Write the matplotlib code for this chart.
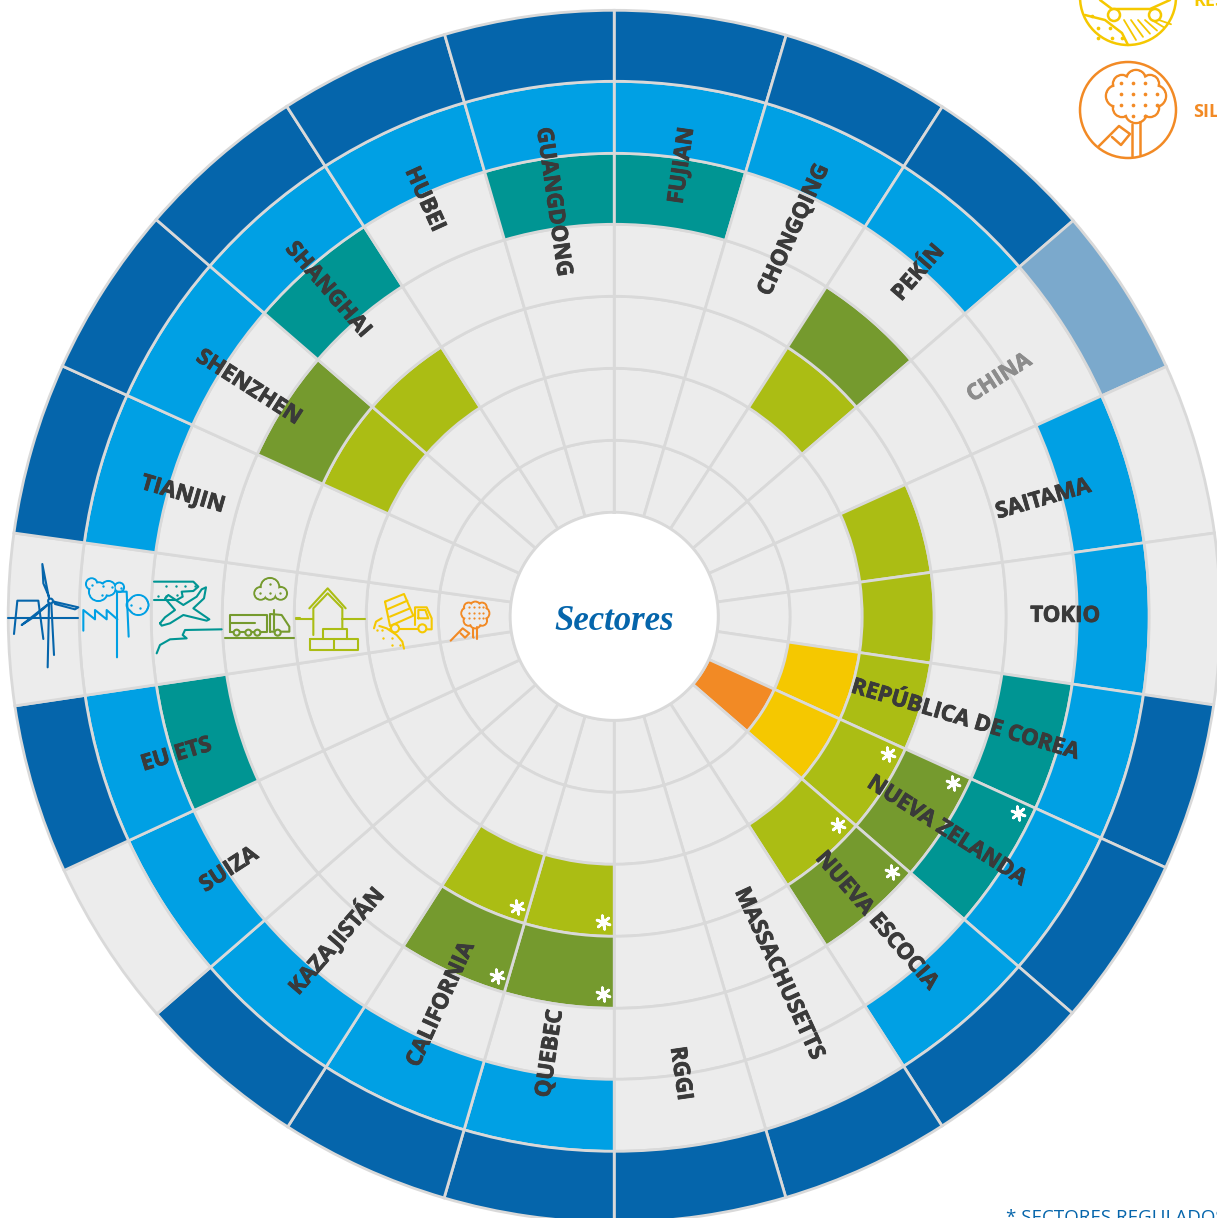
import matplotlib
matplotlib.use("Agg")
import matplotlib.pyplot as plt
import matplotlib.patheffects as pe
import numpy as np
from matplotlib.patches import Circle

# jurisdictions clockwise from 12 o'clock, the empty one holds the icons
names = ["FUJIAN", "CHONGQING", "PEKÍN", "CHINA", "SAITAMA", "TOKIO", "REPÚBLICA DE COREA",
         "NUEVA ZELANDA", "NUEVA ESCOCIA", "MASSACHUSETTS", "RGGI", "QUEBEC", "CALIFORNIA",
         "KAZAJISTÁN", "SUIZA", "EU ETS", "", "TIANJIN", "SHENZHEN", "SHANGHAI", "HUBEI", "GUANGDONG"]
label_r = [456, 426, 459, 453, 445, 451, 366, 396, 402, 394, 462, 442, 425, 427, 461, 459, 0,
           448, 431, 434, 458, 419]
label_deg = [8.6, 25.0, 41.6, 58.3, 74.8, 90.0, 106.5, 122.9, 139.3, 155.3, 171.8, 188.3, 204.0,
             220.6, 236.6, 252.4, 0, 285.7, 302.0, 318.7, 335.5, 351.6]

# spoke directions
spoke_deg = [0, 16.49, 32.78, 49.23, 65.66, 82.1, 98.41, 114.5, 130.9, 147.25, 163.55, 180,
             196.3, 212.6, 229.0, 245.2, 261.5, 277.9, 294.4, 310.9, 327.3, 343.75, 360]

# which jurisdictions are filled, ring by ring
silvicultura = [7]
residuos = [6, 7]
edificios = [2, 4, 5, 6, 7, 8, 11, 12, 18, 19]
transporte = [2, 7, 8, 11, 12, 18]
aviacion = [0, 6, 7, 15, 19, 21]
industria = [0, 1, 2, 4, 5, 6, 7, 8, 11, 12, 13, 14, 15, 17, 18, 19, 20, 21]
energia = [0, 1, 2, 6, 7, 8, 9, 10, 11, 12, 13, 15, 17, 18, 19, 20, 21]
energia_parcial = [3]

# regulated cells marked with an asterisk
star_sector = [7, 7, 7, 8, 8, 11, 11, 12, 12]
star_ring = [2, 3, 4, 2, 3, 2, 3, 2, 3]

ring_edges = [104, 176, 248, 320, 392, 463, 535, 606]
ring_fill = [silvicultura, residuos, edificios, transporte, aviacion, industria, energia]
ORANGE, YELLOW, LIME, OLIVE, TEAL, BLUE, DARK = ("#F28A25", "#F5C800", "#ABBD14", "#759A2E",
                                                "#009593", "#00A0E4", "#0565AB")
ring_colors = [ORANGE, YELLOW, LIME, OLIVE, TEAL, BLUE, DARK]
GREY = "#ECECEC"
LINE = "#D9D9D9"
TEXT = "#3A3A3A"

W, H = 1217, 1218
cx, cy, rmax = 614.2, 616.3, 612
fig = plt.figure(figsize=(W / 100, H / 100), dpi=100)
ax = fig.add_axes([(cx - rmax) / W, (H - cy - rmax) / H, 2 * rmax / W, 2 * rmax / H], projection="polar")
ax.set_theta_zero_location("N")
ax.set_theta_direction(-1)
ax.set_ylim(0, rmax)
ax.axis("off")

n = len(names)
edges = np.radians(spoke_deg)
mid = (edges[:-1] + edges[1:]) / 2
widths = np.diff(edges)

for ring in range(7):
    bottom = ring_edges[ring]
    height = ring_edges[ring + 1] - bottom
    colors = [ring_colors[ring] if i in ring_fill[ring] else GREY for i in range(n)]
    if ring == 6:
        for i in energia_parcial:
            colors[i] = "#7BA9CC"
    ax.bar(mid, height, width=widths, bottom=bottom, color=colors, edgecolor=LINE, linewidth=2.0)

ax.bar([0], ring_edges[0], width=2 * np.pi, bottom=0, color="white", edgecolor="none")
theta = np.linspace(0, 2 * np.pi, 400)
ax.plot(theta, np.full(400, ring_edges[0]), color=LINE, lw=2.0)

star_r = [ring_edges[r + 1] - 14 for r in star_ring]
star_t = [edges[s] + 11.5 / r for s, r in zip(star_sector, star_r)]
ax.scatter(star_t, star_r, marker=(6, 2, 10), s=95, color="white", linewidths=2.0, zorder=6)

for i, name in enumerate(names):
    if not name:
        continue
    deg = np.degrees(mid[i])
    rot = 90 - deg if deg < 180 else 270 - deg
    col = "#8C8C8C" if name == "CHINA" else TEXT
    ax.text(np.radians(label_deg[i]), label_r[i], name, rotation=rot, rotation_mode="anchor",
            ha="center", va="center", family="Open Sans", weight="bold", fontsize=16, color=col, zorder=7,
            path_effects=[pe.withStroke(linewidth=0.6, foreground=col)])

# overlay in pixels for the icons and the cut-off legend
ov = fig.add_axes([0, 0, 1, 1], facecolor="none")
ov.set_xlim(0, W)
ov.set_ylim(H, 0)
ov.axis("off")


def line(pts, color, lw=1.5, ox=0, oy=0, s=1 / 3):
    xs = [ox + p[0] * s for p in pts]
    ys = [oy + p[1] * s for p in pts]
    ov.plot(xs, ys, color=color, lw=lw, solid_capstyle="round", solid_joinstyle="round", zorder=5)


def cloud(blobs, color, bg, lw=1.5, ox=0, oy=0, s=1 / 3):
    for x, y, r in blobs:
        ov.add_patch(Circle((ox + x * s, oy + y * s), r * s, fc="none", ec=color, lw=lw, zorder=3))
    for x, y, r in blobs:
        ov.add_patch(Circle((ox + x * s, oy + y * s), r * s - lw * 0.7, fc=bg, ec="none", zorder=3))


def dots(pts, color, ox=0, oy=0, s=1 / 3, size=3):
    ov.scatter([ox + p[0] * s for p in pts], [oy + p[1] * s for p in pts], s=size, color=color,
               linewidths=0, zorder=5)


# turbine
ox, oy = 0, 530
line([(25, 265), (235, 265)], DARK, 1.5, ox, oy)
line([(42, 312), (52, 212), (115, 212), (130, 327)], DARK, 1.5, ox, oy)
line([(147, 205), (127, 102), (130, 160), (147, 200)], DARK, 1.5, ox, oy)
line([(162, 215), (235, 232), (225, 238), (165, 222), (162, 215)], DARK, 1.5, ox, oy)
line([(145, 222), (65, 285), (100, 262), (143, 225)], DARK, 1.5, ox, oy)
line([(147, 222), (143, 412)], DARK, 1.5, ox, oy)
line([(154, 222), (162, 375)], DARK, 1.5, ox, oy)
ov.add_patch(Circle((50.5, 601), 2.4, fc=GREY, ec=DARK, lw=1.5, zorder=6))

# factory
line([(250, 302), (250, 240), (285, 268), (285, 240), (320, 268), (320, 240), (352, 268)], BLUE, 1.5, ox, oy)
line([(351, 382), (351, 185), (380, 185), (386, 320)], BLUE, 1.5, ox, oy)
cloud([(295, 185, 28), (275, 162, 17), (325, 175, 22), (358, 172, 14)], BLUE, GREY, 1.5, ox, oy)
cloud([(415, 225, 30), (398, 225, 18), (428, 225, 17)], BLUE, GREY, 1.5, ox, oy)
dots([(275, 165), (310, 168), (335, 170), (305, 195), (362, 175), (392, 225), (420, 235)], BLUE, ox, oy)

# plane
line([(462, 155), (580, 155), (595, 170), (580, 183), (545, 185), (548, 200), (530, 210), (462, 210)],
     TEAL, 1.5, ox, oy)
dots([(497, 168), (527, 168), (556, 168), (585, 168), (475, 198), (497, 198), (530, 195)], TEAL, ox, oy)
line([(480, 280), (495, 262), (525, 240), (495, 205), (505, 195), (550, 225), (590, 200), (605, 178),
      (618, 172), (612, 205), (580, 235), (628, 268), (620, 272), (550, 255), (510, 280), (485, 287),
      (480, 280)], TEAL, 1.5, ox, oy)
line([(470, 370), (480, 345), (510, 328), (560, 325), (548, 315), (555, 300), (665, 298)], TEAL, 1.5, ox, oy)

# truck
line([(675, 323), (882, 323)], OLIVE, 1.5, ox, oy)
line([(690, 305), (690, 255), (802, 255), (802, 305), (690, 305)], OLIVE, 1.5, ox, oy)
line([(690, 278), (765, 278)], OLIVE, 1.5, ox, oy)
line([(810, 305), (810, 252), (845, 255), (868, 290), (868, 305), (810, 305)], OLIVE, 1.5, ox, oy)
line([(822, 240), (822, 300)], OLIVE, 1.5, ox, oy)
for zx in (710, 745, 772, 833):
    ov.add_patch(Circle((zx / 3, 530 + 308 / 3), 3, fc=GREY, ec=OLIVE, lw=1.5, zorder=6))
cloud([(810, 172, 28), (782, 190, 19), (842, 190, 19), (810, 190, 19)], OLIVE, GREY, 1.5, ox, oy)
dots([(810, 162), (780, 190), (810, 190), (840, 190)], OLIVE, ox, oy)
line([(888, 265), (900, 265)], LIME, 1.5, ox, oy)

# house
ox, oy = 280, 550
line([(88, 175), (143, 115), (197, 175)], LIME, 1.5, ox, oy)
line([(100, 255), (100, 175), (143, 130), (187, 175), (187, 235)], LIME, 1.5, ox, oy)
line([(48, 207), (100, 207)], LIME, 1.5, ox, oy)
line([(187, 207), (255, 207)], LIME, 1.5, ox, oy)
line([(90, 268), (90, 300), (235, 300), (235, 268), (90, 268)], LIME, 1.5, ox, oy)
line([(162, 268), (162, 300)], LIME, 1.5, ox, oy)
line([(128, 268), (128, 238), (200, 238), (200, 268)], LIME, 1.5, ox, oy)

# dump truck
line([(315, 155), (372, 132), (400, 197), (330, 228), (315, 155)], YELLOW, 1.5, ox, oy)
line([(322, 178), (382, 152)], YELLOW, 1.5, ox, oy)
line([(330, 200), (390, 175)], YELLOW, 1.5, ox, oy)
line([(405, 225), (405, 172), (440, 172), (455, 205), (455, 238), (440, 238)], YELLOW, 1.5, ox, oy)
line([(415, 205), (415, 180), (436, 180), (445, 205), (415, 205)], YELLOW, 1.5, ox, oy)
line([(330, 236), (415, 236)], YELLOW, 1.5, ox, oy)
for zx in (345, 427):
    ov.add_patch(Circle((ox + zx / 3, oy + 235 / 3), 4, fc=GREY, ec=YELLOW, lw=1.5, zorder=6))
line([(282, 235), (288, 215), (305, 205)], YELLOW, 1.5, ox, oy)
line([(298, 228), (320, 235), (350, 255), (367, 275), (372, 296)], YELLOW, 1.5, ox, oy)
dots([(292, 240), (305, 240), (310, 265), (335, 265), (335, 285), (360, 285)], YELLOW, ox, oy)

# tree icon
cloud([(586, 195, 30), (562, 190, 18), (610, 190, 18), (586, 172, 17), (586, 218, 17),
       (566, 212, 15), (606, 212, 15), (566, 172, 14), (606, 172, 14)], ORANGE, GREY, 1.5, ox, oy)
dots([(x, y) for x in (567, 582, 597, 610) for y in (172, 190, 205)] + [(580, 262)], ORANGE, ox, oy, 1 / 3, 2.5)
line([(580, 234), (580, 262)], ORANGE, 1.5, ox, oy)
line([(592, 232), (592, 266)], ORANGE, 1.5, ox, oy)
line([(512, 272), (548, 235), (568, 250), (555, 263), (542, 250)], ORANGE, 1.5, ox, oy)

# legend, only partly inside the canvas
ov.add_patch(Circle((1128, 110), 48, fc="white", ec=ORANGE, lw=1.8, zorder=2))
cloud([(1136, 95, 20), (1117, 96, 11), (1155, 96, 11), (1136, 80, 10), (1136, 112, 11),
       (1122, 84, 9), (1150, 84, 9), (1122, 108, 9), (1150, 108, 9)], ORANGE, "white", 1.8, 0, 0, 1)
dots([(x, y) for x in (1121, 1133, 1145, 1157) for y in (94, 105)] + [(1121, 83), (1133, 83), (1145, 83),
                                                                    (1133, 116), (1145, 116)], ORANGE, 0, 0, 1, 7)
line([(1132, 124), (1132, 156)], ORANGE, 1.8, 0, 0, 1)
line([(1140, 122), (1140, 155)], ORANGE, 1.8, 0, 0, 1)
line([(1099, 146), (1119, 126), (1130, 134), (1121, 145), (1112, 137)], ORANGE, 1.8, 0, 0, 1)

ov.add_patch(Circle((1128, -3), 48, fc="white", ec=YELLOW, lw=1.8, zorder=2))
line([(1100, 0), (1112, 9), (1150, 9), (1170, 0)], YELLOW, 1.8, 0, 0, 1)
line([(1085, 15), (1105, 20), (1122, 33), (1128, 45)], YELLOW, 1.8, 0, 0, 1)
for x0 in (1124, 1131, 1138, 1145, 1152, 1159):
    line([(x0, 20), (x0 + 12, 40 - (x0 - 1124) * 0.45)], YELLOW, 1.3, 0, 0, 1)
ov.add_patch(Circle((1114, 15), 6, fc="white", ec=YELLOW, lw=1.8, zorder=6))
ov.add_patch(Circle((1155, 15), 6, fc="white", ec=YELLOW, lw=1.8, zorder=6))
dots([(1092, 16), (1098, 28), (1110, 28), (1112, 38), (1122, 38), (1098, 38)], YELLOW, 0, 0, 1, 7)

ov.text(1193, 112, "SILVICULTURA", color=ORANGE, family="Open Sans", weight="bold", fontsize=13, va="center")
ov.text(1193, 1, "RESIDUOS", color=YELLOW, family="Open Sans", weight="bold", fontsize=13, va="center")
ov.text(1006, 1209, "* SECTORES REGULADOS", color=DARK, family="Open Sans", fontsize=13.5, va="top")
ov.text(614, 621, "Sectores", color=DARK, family="Liberation Serif", style="italic", weight="bold",
        fontsize=25, ha="center", va="center")

fig.savefig("out.png", dpi=100)
